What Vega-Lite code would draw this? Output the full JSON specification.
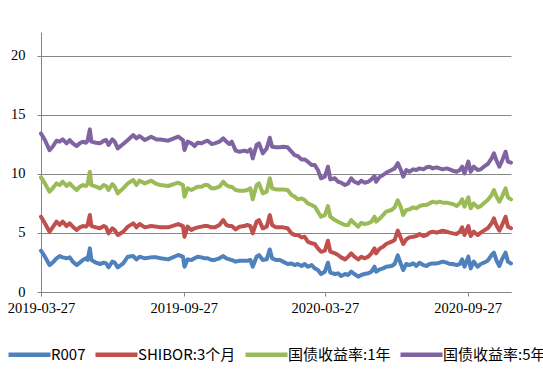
{
  "$schema": "https://vega.github.io/schema/vega-lite/v6.json",
  "width": 470,
  "height": 260,
  "autosize": {"type": "none"},
  "padding": {"left": 41, "top": 32, "right": 32, "bottom": 94},
  "background": "white",
  "data": {"values": [
    {"d":"2019-03-27","R007":3.50,"SHIBOR:3个月":6.37,"国债收益率:1年":9.70,"国债收益率:5年":13.42},
    {"d":"2019-04-01","R007":2.99,"SHIBOR:3个月":5.81,"国债收益率:1年":9.19,"国债收益率:5年":12.86},
    {"d":"2019-04-07","R007":2.28,"SHIBOR:3个月":5.10,"国债收益率:1年":8.49,"国债收益率:5年":12.01},
    {"d":"2019-04-11","R007":2.48,"SHIBOR:3个月":5.47,"国债收益率:1年":8.77,"国债收益率:5年":12.29},
    {"d":"2019-04-16","R007":2.85,"SHIBOR:3个月":5.95,"国债收益率:1年":9.19,"国债收益率:5年":12.80},
    {"d":"2019-04-20","R007":3.04,"SHIBOR:3个月":5.67,"国债收益率:1年":9.05,"国债收益率:5年":12.72},
    {"d":"2019-04-24","R007":2.93,"SHIBOR:3个月":5.95,"国债收益率:1年":9.33,"国债收益率:5年":12.91},
    {"d":"2019-04-29","R007":2.85,"SHIBOR:3个月":5.58,"国债收益率:1年":8.97,"国债收益率:5年":12.58},
    {"d":"2019-05-03","R007":2.93,"SHIBOR:3个月":5.81,"国债收益率:1年":9.19,"国债收益率:5年":12.86},
    {"d":"2019-05-07","R007":2.57,"SHIBOR:3个月":5.53,"国债收益率:1年":8.91,"国债收益率:5年":12.58},
    {"d":"2019-05-12","R007":2.28,"SHIBOR:3个月":5.24,"国债收益率:1年":8.63,"国债收益率:5年":12.35},
    {"d":"2019-05-16","R007":2.48,"SHIBOR:3个月":5.47,"国债收益率:1年":8.91,"国债收益率:5年":12.58},
    {"d":"2019-05-20","R007":2.71,"SHIBOR:3个月":5.58,"国债收益率:1年":9.05,"国债收益率:5年":12.72},
    {"d":"2019-05-24","R007":2.85,"SHIBOR:3个月":5.53,"国债收益率:1年":8.97,"国债收益率:5年":12.63},
    {"d":"2019-05-26","R007":2.71,"SHIBOR:3个月":5.67,"国债收益率:1年":9.14,"国债收益率:5年":12.80},
    {"d":"2019-05-29","R007":3.69,"SHIBOR:3个月":6.51,"国债收益率:1年":10.18,"国债收益率:5年":13.76},
    {"d":"2019-05-31","R007":2.71,"SHIBOR:3个月":5.58,"国债收益率:1年":9.05,"国债收益率:5年":12.72},
    {"d":"2019-06-06","R007":2.48,"SHIBOR:3个月":5.47,"国债收益率:1年":8.91,"国债收益率:5年":12.63},
    {"d":"2019-06-11","R007":2.37,"SHIBOR:3个月":5.39,"国债收益率:1年":8.77,"国债收益率:5年":12.58},
    {"d":"2019-06-16","R007":2.48,"SHIBOR:3个月":5.58,"国债收益率:1年":9.05,"国债收益率:5年":12.80},
    {"d":"2019-06-19","R007":2.42,"SHIBOR:3个月":5.47,"国债收益率:1年":8.97,"国债收益率:5年":12.86},
    {"d":"2019-06-22","R007":2.09,"SHIBOR:3个月":4.96,"国债收益率:1年":8.63,"国债收益率:5年":12.44},
    {"d":"2019-06-27","R007":2.57,"SHIBOR:3个月":5.39,"国债收益率:1年":9.14,"国债收益率:5年":12.91},
    {"d":"2019-06-30","R007":2.48,"SHIBOR:3个月":5.24,"国债收益率:1年":8.91,"国债收益率:5年":12.72},
    {"d":"2019-07-04","R007":2.09,"SHIBOR:3个月":4.82,"国债收益率:1年":8.35,"国债收益率:5年":12.15},
    {"d":"2019-07-11","R007":2.42,"SHIBOR:3个月":5.10,"国债收益率:1年":8.77,"国债收益率:5年":12.52},
    {"d":"2019-07-17","R007":2.99,"SHIBOR:3个月":5.53,"国债收益率:1年":9.19,"国债收益率:5年":12.86},
    {"d":"2019-07-24","R007":3.04,"SHIBOR:3个月":5.81,"国债收益率:1年":9.47,"国债收益率:5年":13.28},
    {"d":"2019-07-28","R007":2.76,"SHIBOR:3个月":5.47,"国债收益率:1年":9.05,"国债收益率:5年":13.00},
    {"d":"2019-08-01","R007":2.99,"SHIBOR:3个月":5.75,"国债收益率:1年":9.42,"国债收益率:5年":13.20},
    {"d":"2019-08-08","R007":2.85,"SHIBOR:3个月":5.47,"国债收益率:1年":9.19,"国债收益率:5年":12.86},
    {"d":"2019-08-16","R007":2.93,"SHIBOR:3个月":5.58,"国债收益率:1年":9.42,"国债收益率:5年":13.14},
    {"d":"2019-08-23","R007":2.93,"SHIBOR:3个月":5.53,"国债收益率:1年":9.14,"国债收益率:5年":12.91},
    {"d":"2019-08-28","R007":2.85,"SHIBOR:3个月":5.47,"国债收益率:1年":9.05,"国债收益率:5年":12.91},
    {"d":"2019-09-07","R007":2.76,"SHIBOR:3个月":5.47,"国债收益率:1年":8.97,"国债收益率:5年":12.80},
    {"d":"2019-09-20","R007":3.13,"SHIBOR:3个月":5.75,"国债收益率:1年":9.25,"国债收益率:5年":13.14},
    {"d":"2019-09-26","R007":2.99,"SHIBOR:3个月":5.58,"国债收益率:1年":9.05,"国债收益率:5年":12.86},
    {"d":"2019-09-28","R007":2.14,"SHIBOR:3个月":4.68,"国债收益率:1年":8.07,"国债收益率:5年":12.01},
    {"d":"2019-10-02","R007":2.76,"SHIBOR:3个月":5.53,"国债收益率:1年":8.77,"国债收益率:5年":12.72},
    {"d":"2019-10-07","R007":2.71,"SHIBOR:3个月":5.24,"国债收益率:1年":8.63,"国债收益率:5年":12.58},
    {"d":"2019-10-11","R007":2.85,"SHIBOR:3个月":5.39,"国债收益率:1年":8.77,"国债收益率:5年":12.35},
    {"d":"2019-10-15","R007":2.99,"SHIBOR:3个月":5.47,"国债收益率:1年":8.91,"国债收益率:5年":12.63},
    {"d":"2019-10-20","R007":2.93,"SHIBOR:3个月":5.53,"国债收益率:1年":8.91,"国债收益率:5年":12.58},
    {"d":"2019-10-24","R007":2.85,"SHIBOR:3个月":5.58,"国债收益率:1年":9.05,"国债收益率:5年":12.72},
    {"d":"2019-10-28","R007":2.85,"SHIBOR:3个月":5.58,"国债收益率:1年":9.05,"国债收益率:5年":12.80},
    {"d":"2019-11-02","R007":2.71,"SHIBOR:3个月":5.47,"国债收益率:1年":8.77,"国债收益率:5年":12.52},
    {"d":"2019-11-06","R007":2.71,"SHIBOR:3个月":5.47,"国债收益率:1年":8.77,"国债收益率:5年":12.58},
    {"d":"2019-11-12","R007":2.85,"SHIBOR:3个月":5.67,"国债收益率:1年":8.91,"国债收益率:5年":12.72},
    {"d":"2019-11-17","R007":3.04,"SHIBOR:3个月":6.09,"国债收益率:1年":9.33,"国债收益率:5年":13.00},
    {"d":"2019-11-21","R007":2.85,"SHIBOR:3个月":5.67,"国债收益率:1年":9.05,"国债收益率:5年":12.72},
    {"d":"2019-11-25","R007":2.76,"SHIBOR:3个月":5.58,"国债收益率:1年":8.91,"国债收益率:5年":12.52},
    {"d":"2019-11-28","R007":2.71,"SHIBOR:3个月":5.58,"国债收益率:1年":8.91,"国债收益率:5年":12.72},
    {"d":"2019-12-03","R007":2.57,"SHIBOR:3个月":5.30,"国债收益率:1年":8.63,"国债收益率:5年":11.96},
    {"d":"2019-12-08","R007":2.65,"SHIBOR:3个月":5.53,"国债收益率:1年":8.57,"国债收益率:5年":11.87},
    {"d":"2019-12-14","R007":2.65,"SHIBOR:3个月":5.58,"国债收益率:1年":8.57,"国债收益率:5年":11.96},
    {"d":"2019-12-18","R007":2.65,"SHIBOR:3个月":5.67,"国债收益率:1年":8.63,"国债收益率:5年":11.87},
    {"d":"2019-12-22","R007":2.71,"SHIBOR:3个月":5.58,"国债收益率:1年":8.77,"国债收益率:5年":12.07},
    {"d":"2019-12-25","R007":2.14,"SHIBOR:3个月":4.96,"国债收益率:1年":7.84,"国债收益率:5年":11.31},
    {"d":"2019-12-30","R007":2.99,"SHIBOR:3个月":5.95,"国债收益率:1年":9.05,"国债收益率:5年":12.44},
    {"d":"2020-01-02","R007":3.13,"SHIBOR:3个月":6.09,"国债收益率:1年":9.19,"国债收益率:5年":12.58},
    {"d":"2020-01-07","R007":2.71,"SHIBOR:3个月":5.39,"国债收益率:1年":8.35,"国债收益率:5年":11.73},
    {"d":"2020-01-12","R007":2.76,"SHIBOR:3个月":5.53,"国债收益率:1年":8.49,"国债收益率:5年":12.15},
    {"d":"2020-01-16","R007":3.60,"SHIBOR:3个月":6.51,"国债收益率:1年":9.62,"国债收益率:5年":13.05},
    {"d":"2020-01-19","R007":2.85,"SHIBOR:3个月":5.67,"国债收益率:1年":8.77,"国债收益率:5年":12.29},
    {"d":"2020-01-24","R007":2.71,"SHIBOR:3个月":5.47,"国债收益率:1年":8.68,"国债收益率:5年":12.25},
    {"d":"2020-01-29","R007":2.71,"SHIBOR:3个月":5.47,"国债收益率:1年":8.68,"国债收益率:5年":12.25},
    {"d":"2020-02-02","R007":2.57,"SHIBOR:3个月":5.47,"国债收益率:1年":8.68,"国债收益率:5年":12.29},
    {"d":"2020-02-08","R007":2.37,"SHIBOR:3个月":5.39,"国债收益率:1年":8.63,"国债收益率:5年":12.24},
    {"d":"2020-02-13","R007":2.42,"SHIBOR:3个月":4.96,"国债收益率:1年":8.21,"国债收益率:5年":11.87},
    {"d":"2020-02-17","R007":2.28,"SHIBOR:3个月":4.82,"国债收益率:1年":8.07,"国债收益率:5年":11.59},
    {"d":"2020-02-21","R007":2.37,"SHIBOR:3个月":4.82,"国债收益率:1年":7.84,"国债收益率:5年":11.50},
    {"d":"2020-02-26","R007":2.20,"SHIBOR:3个月":4.62,"国债收益率:1年":7.92,"国债收益率:5年":11.22},
    {"d":"2020-03-01","R007":2.37,"SHIBOR:3个月":4.68,"国债收益率:1年":7.78,"国债收益率:5年":11.22},
    {"d":"2020-03-05","R007":2.14,"SHIBOR:3个月":4.26,"国债收益率:1年":7.50,"国债收益率:5年":11.03},
    {"d":"2020-03-10","R007":2.28,"SHIBOR:3个月":4.12,"国债收益率:1年":7.36,"国债收益率:5年":10.74},
    {"d":"2020-03-14","R007":2.00,"SHIBOR:3个月":4.06,"国债收益率:1年":7.22,"国债收益率:5年":10.74},
    {"d":"2020-03-18","R007":1.86,"SHIBOR:3个月":3.69,"国债收益率:1年":6.80,"国债收益率:5年":10.32},
    {"d":"2020-03-22","R007":1.52,"SHIBOR:3个月":3.41,"国债收益率:1年":6.37,"国债收益率:5年":9.62},
    {"d":"2020-03-27","R007":1.72,"SHIBOR:3个月":3.50,"国债收益率:1年":6.51,"国债收益率:5年":9.76},
    {"d":"2020-03-31","R007":2.48,"SHIBOR:3个月":4.34,"国债收益率:1年":7.27,"国债收益率:5年":10.60},
    {"d":"2020-04-03","R007":1.64,"SHIBOR:3个月":3.41,"国债收益率:1年":6.37,"国债收益率:5年":9.53},
    {"d":"2020-04-09","R007":1.52,"SHIBOR:3个月":3.27,"国债收益率:1年":6.09,"国债收益率:5年":9.62},
    {"d":"2020-04-13","R007":1.58,"SHIBOR:3个月":3.13,"国债收益率:1年":5.95,"国债收益率:5年":9.33},
    {"d":"2020-04-17","R007":1.35,"SHIBOR:3个月":2.93,"国债收益率:1年":5.81,"国债收益率:5年":9.25},
    {"d":"2020-04-22","R007":1.52,"SHIBOR:3个月":2.76,"国债收益率:1年":5.67,"国债收益率:5年":9.05},
    {"d":"2020-04-26","R007":1.44,"SHIBOR:3个月":2.99,"国债收益率:1年":5.67,"国债收益率:5年":9.19},
    {"d":"2020-04-30","R007":1.72,"SHIBOR:3个月":3.27,"国债收益率:1年":6.09,"国债收益率:5年":9.62},
    {"d":"2020-05-04","R007":1.52,"SHIBOR:3个月":2.99,"国债收益率:1年":5.81,"国债收益率:5年":9.33},
    {"d":"2020-05-09","R007":1.30,"SHIBOR:3个月":2.76,"国债收益率:1年":5.53,"国债收益率:5年":9.19},
    {"d":"2020-05-13","R007":1.44,"SHIBOR:3个月":2.99,"国债收益率:1年":5.86,"国债收益率:5年":9.42},
    {"d":"2020-05-17","R007":1.52,"SHIBOR:3个月":2.85,"国债收益率:1年":5.75,"国债收益率:5年":9.25},
    {"d":"2020-05-22","R007":1.58,"SHIBOR:3个月":2.99,"国债收益率:1年":5.81,"国债收益率:5年":9.33},
    {"d":"2020-05-26","R007":1.72,"SHIBOR:3个月":3.27,"国债收益率:1年":5.95,"国债收益率:5年":9.53},
    {"d":"2020-05-30","R007":2.14,"SHIBOR:3个月":3.69,"国债收益率:1年":6.37,"国债收益率:5年":9.81},
    {"d":"2020-06-01","R007":1.72,"SHIBOR:3个月":3.27,"国债收益率:1年":5.95,"国债收益率:5年":9.33},
    {"d":"2020-06-06","R007":1.92,"SHIBOR:3个月":3.69,"国债收益率:1年":6.23,"国债收益率:5年":9.76},
    {"d":"2020-06-10","R007":2.00,"SHIBOR:3个月":3.83,"国债收益率:1年":6.51,"国债收益率:5年":9.90},
    {"d":"2020-06-14","R007":2.14,"SHIBOR:3个月":4.06,"国债收益率:1年":6.80,"国债收益率:5年":10.09},
    {"d":"2020-06-21","R007":2.20,"SHIBOR:3个月":4.26,"国债收益率:1年":6.94,"国债收益率:5年":10.32},
    {"d":"2020-06-25","R007":2.37,"SHIBOR:3个月":4.40,"国债收益率:1年":7.16,"国债收益率:5年":10.46},
    {"d":"2020-06-29","R007":3.10,"SHIBOR:3个月":5.20,"国债收益率:1年":7.75,"国债收益率:5年":10.90},
    {"d":"2020-07-03","R007":2.37,"SHIBOR:3个月":4.54,"国债收益率:1年":7.16,"国债收益率:5年":10.32},
    {"d":"2020-07-06","R007":1.86,"SHIBOR:3个月":4.06,"国债收益率:1年":6.51,"国债收益率:5年":9.76},
    {"d":"2020-07-10","R007":2.37,"SHIBOR:3个月":4.45,"国债收益率:1年":6.94,"国债收益率:5年":10.32},
    {"d":"2020-07-14","R007":2.28,"SHIBOR:3个月":4.62,"国债收益率:1年":6.99,"国债收益率:5年":10.18},
    {"d":"2020-07-19","R007":2.42,"SHIBOR:3个月":4.68,"国债收益率:1年":7.16,"国债收益率:5年":10.38},
    {"d":"2020-07-23","R007":2.20,"SHIBOR:3个月":4.74,"国债收益率:1年":7.08,"国债收益率:5年":10.32},
    {"d":"2020-07-27","R007":2.48,"SHIBOR:3个月":4.91,"国债收益率:1年":7.27,"国债收益率:5年":10.46},
    {"d":"2020-08-01","R007":2.28,"SHIBOR:3个月":4.74,"国债收益率:1年":7.36,"国债收益率:5年":10.38},
    {"d":"2020-08-05","R007":2.20,"SHIBOR:3个月":4.82,"国债收益率:1年":7.36,"国债收益率:5年":10.55},
    {"d":"2020-08-09","R007":2.37,"SHIBOR:3个月":5.02,"国债收益率:1年":7.50,"国债收益率:5年":10.60},
    {"d":"2020-08-13","R007":2.42,"SHIBOR:3个月":5.10,"国债收益率:1年":7.64,"国债收益率:5年":10.46},
    {"d":"2020-08-18","R007":2.42,"SHIBOR:3个月":5.02,"国债收益率:1年":7.56,"国债收益率:5年":10.55},
    {"d":"2020-08-22","R007":2.48,"SHIBOR:3个月":5.10,"国债收益率:1年":7.64,"国债收益率:5年":10.46},
    {"d":"2020-08-26","R007":2.57,"SHIBOR:3个月":5.19,"国债收益率:1年":7.56,"国债收益率:5年":10.38},
    {"d":"2020-08-31","R007":2.48,"SHIBOR:3个月":5.10,"国债收益率:1年":7.56,"国债收益率:5年":10.46},
    {"d":"2020-09-04","R007":2.37,"SHIBOR:3个月":5.02,"国债收益率:1年":7.50,"国债收益率:5年":10.38},
    {"d":"2020-09-08","R007":2.37,"SHIBOR:3个月":4.96,"国债收益率:1年":7.44,"国债收益率:5年":10.26},
    {"d":"2020-09-13","R007":2.28,"SHIBOR:3个月":4.91,"国债收益率:1年":7.27,"国债收益率:5年":10.18},
    {"d":"2020-09-17","R007":2.37,"SHIBOR:3个月":5.10,"国债收益率:1年":7.50,"国债收益率:5年":10.32},
    {"d":"2020-09-20","R007":2.76,"SHIBOR:3个月":5.47,"国债收益率:1年":7.84,"国债收益率:5年":10.60},
    {"d":"2020-09-23","R007":2.14,"SHIBOR:3个月":4.82,"国债收益率:1年":7.22,"国债收益率:5年":10.04},
    {"d":"2020-09-28","R007":2.99,"SHIBOR:3个月":5.58,"国债收益率:1年":8.01,"国债收益率:5年":11.03},
    {"d":"2020-10-01","R007":2.00,"SHIBOR:3个月":4.74,"国债收益率:1年":7.08,"国债收益率:5年":10.18},
    {"d":"2020-10-05","R007":2.57,"SHIBOR:3个月":5.10,"国债收益率:1年":7.50,"国债收益率:5年":10.60},
    {"d":"2020-10-10","R007":2.14,"SHIBOR:3个月":4.82,"国债收益率:1年":7.16,"国债收益率:5年":10.32},
    {"d":"2020-10-14","R007":2.37,"SHIBOR:3个月":5.02,"国债收益率:1年":7.27,"国债收益率:5年":10.38},
    {"d":"2020-10-18","R007":2.48,"SHIBOR:3个月":5.19,"国债收益率:1年":7.50,"国债收益率:5年":10.60},
    {"d":"2020-10-23","R007":2.65,"SHIBOR:3个月":5.39,"国债收益率:1年":7.78,"国债收益率:5年":10.83},
    {"d":"2020-10-28","R007":3.13,"SHIBOR:3个月":5.81,"国债收益率:1年":8.21,"国债收益率:5年":11.31},
    {"d":"2020-10-31","R007":3.33,"SHIBOR:3个月":6.23,"国债收益率:1年":8.63,"国债收益率:5年":11.73},
    {"d":"2020-11-03","R007":2.71,"SHIBOR:3个月":5.67,"国债收益率:1年":8.12,"国债收益率:5年":11.17},
    {"d":"2020-11-07","R007":2.20,"SHIBOR:3个月":5.19,"国债收益率:1年":7.64,"国债收益率:5年":10.60},
    {"d":"2020-11-10","R007":2.71,"SHIBOR:3个月":5.58,"国债收益率:1年":8.01,"国债收益率:5年":11.03},
    {"d":"2020-11-15","R007":3.33,"SHIBOR:3个月":6.37,"国债收益率:1年":8.77,"国债收益率:5年":11.87},
    {"d":"2020-11-18","R007":2.57,"SHIBOR:3个月":5.53,"国债收益率:1年":8.01,"国债收益率:5年":11.03},
    {"d":"2020-11-22","R007":2.42,"SHIBOR:3个月":5.39,"国债收益率:1年":7.84,"国债收益率:5年":10.94}
  ]},
  "transform": [
    {"fold": ["R007", "SHIBOR:3个月", "国债收益率:1年", "国债收益率:5年"], "as": ["s", "v"]}
  ],
  "mark": {"type": "line", "strokeWidth": 4, "strokeJoin": "round", "strokeCap": "round"},
  "encoding": {
    "x": {
      "field": "d", "type": "temporal",
      "scale": {"type": "utc", "domain": [{"year": 2019, "month": 3, "date": 27, "utc": true}, {"year": 2020, "month": 11, "date": 22, "utc": true}]},
      "axis": {
        "title": null, "grid": false,
        "labelExpr": "utcFormat(datum.value, '%Y-%m-%d')",
        "values": [
          {"year": 2019, "month": 3, "date": 27, "utc": true},
          {"year": 2019, "month": 9, "date": 27, "utc": true},
          {"year": 2020, "month": 3, "date": 27, "utc": true},
          {"year": 2020, "month": 9, "date": 27, "utc": true}
        ],
        "labelFlush": false, "labelOverlap": false, "labelBound": false,
        "labelPadding": 5, "tickSize": 4,
        "labelFont": "Liberation Serif", "labelFontSize": 14.5
      }
    },
    "y": {
      "field": "v", "type": "quantitative",
      "scale": {"domain": [0, 22], "nice": false},
      "axis": {"title": null, "values": [0, 5, 10, 15, 20], "grid": true, "tickSize": 4, "labelPadding": 12,
        "labelFont": "Liberation Serif", "labelFontSize": 14.5}
    },
    "color": {
      "field": "s", "type": "nominal",
      "scale": {"domain": ["R007", "SHIBOR:3个月", "国债收益率:1年", "国债收益率:5年"], "range": ["#4F81BD", "#C0504D", "#9BBB59", "#8064A2"]},
      "legend": {
        "orient": "none", "legendX": -35, "legendY": 299, "direction": "horizontal",
        "title": null, "symbolType": "stroke", "symbolSize": 1764, "symbolStrokeWidth": 4.5,
        "labelFont": "Noto Sans CJK SC", "labelFontSize": 15, "labelColor": "#000",
        "labelOffset": -2, "columnPadding": 0, "labelLimit": 0, "padding": 0
      }
    }
  },
  "config": {
    "view": {"stroke": null},
    "axis": {
      "domainColor": "#868686", "tickColor": "#868686", "gridColor": "#868686",
      "domainWidth": 1, "tickWidth": 1, "gridWidth": 1,
      "labelColor": "#000"
    }
  }
}
